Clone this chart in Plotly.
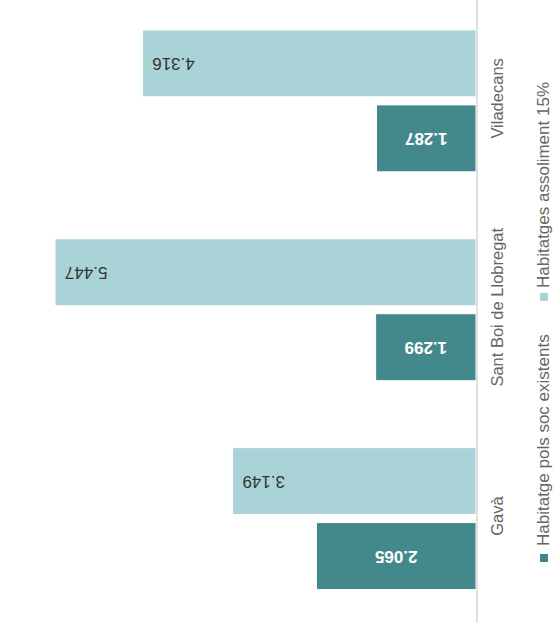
import plotly.graph_objects as go

categories = ["Gavà", "Sant Boi de Llobregat", "Viladecans"]
series_names = ["Habitatge pols soc existents", "Habitatges assoliment 15%"]
existents = [2065, 1299, 1287]
assoliment = [3149, 5447, 4316]

DARK = "#43898c"
LIGHT = "#aad3d7"
FONT = "Liberation Sans, Arial, sans-serif"

W, H = 554, 629
ML, MR, MT, MB = 0, 78, 0, 6
PW = W - ML - MR
PH = H - MT - MB


def px(x):
    return (x - ML) / PW


def py(y):
    return (H - MB - y) / PH


fig = go.Figure()
fig.add_trace(go.Bar(
    y=categories, x=existents, orientation="h", name=series_names[0],
    marker=dict(color=DARK, line=dict(color="white", width=1)),
    texttemplate="%{x:,.0f}", textposition="inside", insidetextanchor="middle",
    textangle=180,
    insidetextfont=dict(family=FONT, size=17, color="white", weight="bold"),
    hoverinfo="skip",
))
fig.add_trace(go.Bar(
    y=categories, x=assoliment, orientation="h", name=series_names[1],
    marker=dict(color=LIGHT, line=dict(color="white", width=1)),
    texttemplate="%{x:,.0f}\u2009\u2009", textposition="inside", insidetextanchor="end",
    textangle=180,
    insidetextfont=dict(family=FONT, size=17, color="#333333"),
    hoverinfo="skip",
))

# rotated legend
legend_items = [
    (series_names[0], DARK, 548, 554),
    (series_names[1], LIGHT, 290, 293),
]
for name, col, ytxt, ysq in legend_items:
    fig.add_annotation(
        text=name, textangle=-90, xref="paper", yref="paper",
        x=px(543), y=py(ytxt), xanchor="center", yanchor="bottom",
        showarrow=False, font=dict(family=FONT, size=17, color="#666666"),
    )
    fig.add_shape(
        type="rect", xref="paper", yref="paper",
        x0=px(540), x1=px(548), y0=py(ysq), y1=py(ysq + 8),
        fillcolor=col, line=dict(width=0),
    )

fig.update_layout(
    width=W, height=H,
    margin=dict(l=ML, r=MR, t=MT, b=MB),
    paper_bgcolor="white", plot_bgcolor="white",
    barmode="group", bargap=0.282, bargroupgap=0.107,
    separators=",.",
    showlegend=False,
    font=dict(family=FONT),
)
fig.update_xaxes(range=[6159, 0], visible=False, showgrid=False, zeroline=False)
fig.update_yaxes(
    side="right", range=[-0.5, 2.483], tickangle=-90,
    showline=True, linecolor="#e0e0e0", linewidth=2,
    showgrid=False, zeroline=False, ticks="", ticklabelstandoff=5,
    tickfont=dict(family=FONT, size=16.5, color="#666666"),
)

fig.write_html("out.html")
